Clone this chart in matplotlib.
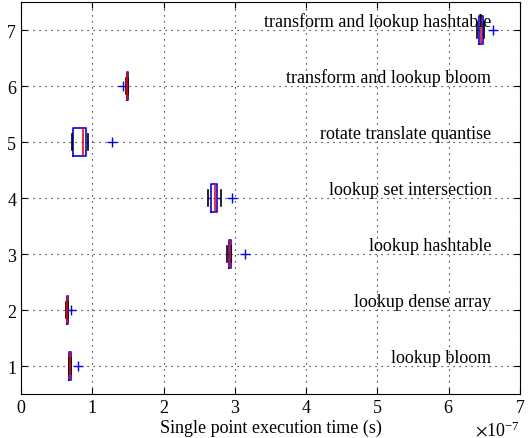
import matplotlib
matplotlib.use("Agg")
import matplotlib.pyplot as plt

# benchmark names, bottom to top
labels = ["lookup bloom", "lookup dense array", "lookup hashtable",
          "lookup set intersection", "rotate translate quantise",
          "transform and lookup bloom", "transform and lookup hashtable"]

# box statistics, in units of 1e-7 s
medians = [0.690, 0.648, 2.930, 2.720, 0.865, 1.490, 6.460]
q1s = [0.680, 0.640, 2.920, 2.665, 0.730, 1.485, 6.420]
q3s = [0.695, 0.655, 2.940, 2.745, 0.910, 1.495, 6.485]
whislos = [0.675, 0.630, 2.890, 2.630, 0.710, 1.480, 6.395]
whishis = [0.700, 0.660, 2.940, 2.805, 0.935, 1.500, 6.490]
fliers = [[0.80], [0.70], [3.14], [2.96], [1.276], [1.426], [6.615]]

plt.rcParams["font.family"] = ["Liberation Serif", "DejaVu Serif"]
plt.rcParams["mathtext.fontset"] = "stix"
plt.rcParams["font.size"] = 13

fig = plt.figure(figsize=(5.3, 4.39), dpi=100)
ax = fig.add_axes([0.0396, 0.1002, 0.9415, 0.8928])

scale = 1e-7
stats = []
for i in range(len(labels)):
    stats.append({
        "med": medians[i] * scale,
        "q1": q1s[i] * scale,
        "q3": q3s[i] * scale,
        "whislo": whislos[i] * scale,
        "whishi": whishis[i] * scale,
        "fliers": [f * scale for f in fliers[i]],
    })

ax.bxp(stats, positions=range(1, len(labels) + 1), vert=False, widths=0.5,
       boxprops=dict(color="blue", linewidth=1.2),
       medianprops=dict(color="red", linewidth=1.2),
       whiskerprops=dict(color="blue", linestyle="--", linewidth=1.0),
       capprops=dict(color="black", linewidth=1.2),
       flierprops=dict(marker="+", markeredgecolor="blue", markersize=7,
                       linestyle="none"),
       capwidths=0.28)

for i, name in enumerate(labels):
    ax.text(6.6e-7, i + 1.16, name, ha="right", va="center", fontsize=13)

ax.set_xlim(0, 7e-7)
ax.set_ylim(0.5, 7.5)
ax.set_yticks(range(1, 8))
ax.set_yticklabels([str(i) for i in range(1, 8)])
ax.grid(True, color="black", linestyle=(0, (1, 4.4)), linewidth=0.8)
ax.tick_params(direction="in", top=True, right=True, length=4, labelsize=13)
ax.set_xlabel("Single point execution time (s)", labelpad=2)
ax.ticklabel_format(axis="x", style="sci", scilimits=(0, 0), useMathText=True)

fig.savefig("out.png", dpi=100)
